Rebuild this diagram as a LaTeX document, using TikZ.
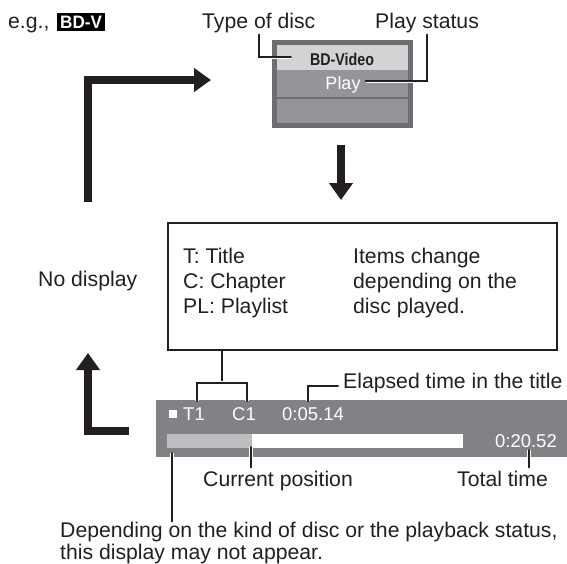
\documentclass[tikz,border=0pt]{standalone}
\usepackage{fontspec}
\setmainfont{Liberation Sans}
\usetikzlibrary{arrows.meta}
\definecolor{ink}{HTML}{231F20}
\definecolor{osdgray}{HTML}{808285}
\definecolor{framegray}{HTML}{6D6E71}
\definecolor{rowgray}{HTML}{939598}
\definecolor{bandgray}{HTML}{D1D3D4}
\definecolor{bargray}{HTML}{BCBEC0}
\tikzset{
 lbl/.style={inner sep=0pt,text=ink,font=\fontsize{21.2}{25}\selectfont},
 osdtxt/.style={lbl,text=white,font=\fontsize{18.5}{20}\selectfont},
 bigarrow/.style={ink,line width=8pt,line join=miter,-{Triangle[width=23pt,length=17pt]}},
 leader/.style={ink,line width=2pt,line cap=round,line join=miter,preaction={draw=white,line width=3.6pt}}
}

\begin{document}
\begin{tikzpicture}[x=1pt,y=-1pt]
 \useasboundingbox (0,0) rectangle (567,563);
 \node[lbl,anchor=base west] (eg) at (8,28) {e.g.,};
 \node[fill=black,text=white,font=\bfseries\fontsize{18}{18}\selectfont,inner xsep=3pt,inner ysep=3pt,anchor=base west] (badge) at (57,28) {\scalebox{0.95}[1]{BD-V}};
 % disc type panel
 \fill[framegray] (272,40) rectangle (413,128);
 \fill[bandgray] (277,45) rectangle (408,70);
 \fill[rowgray] (277,70) rectangle (408,97);
 \fill[rowgray] (277,99) rectangle (408,123);
 \node[lbl,font=\bfseries\fontsize{17}{17}\selectfont,anchor=base] (disc) at (342,65) {\scalebox{0.84}[1]{BD-Video}};
 \node[lbl,text=white,font=\fontsize{18}{18}\selectfont,anchor=base] (play) at (343,89) {Play};
 \node[lbl,anchor=base west] (typelbl) at (202,28) {Type of disc};
 \node[lbl,anchor=base west] (statuslbl) at (375,28) {Play status};
 \coordinate (typeend) at ([xshift=-19pt,yshift=1.5pt]disc.west);
 \coordinate (playend) at ([xshift=5pt,yshift=3pt]play.east);
 \draw[leader] ([yshift=-2pt]typelbl.south) |- (typeend);
 \draw[leader] ([yshift=-2pt]statuslbl.south) |- (playend);
 % cycle arrows
 \coordinate (upfoot) at (88,202);
 \coordinate (panelin) at (211,80);
 \draw[bigarrow] (upfoot) |- (panelin);
 \coordinate (downtop) at (341,145);
 \coordinate (downtip) at (341,200);
 \draw[bigarrow] (downtop) -- (downtip);
 \coordinate (barout) at (129,431);
 \coordinate (uptip) at (88,353);
 \draw[bigarrow] (barout) -| (uptip);
 \node[lbl,anchor=base west] (nodisp) at (38,286) {No display};
 % legend box
 \node[draw=ink,line width=2.2pt,minimum width=389pt,minimum height=127pt,inner sep=0pt] (info) at (362.5,286.5) {};
 \foreach \txt [count=\i] in {T: Title,C: Chapter,PL: Playlist}
  \node[lbl,anchor=base west] (abbr\i) at (183,238+25*\i) {\txt};
 \foreach \txt [count=\i] in {Items change,depending on the,disc played.}
  \node[lbl,anchor=base west] (items\i) at (353,238+25*\i) {\txt};
 % status bar
 \fill[osdgray] (156,400) rectangle (567,457);
 \fill[white] (169,410) rectangle (177,418);
 \fill[bargray] (167,434) rectangle (252,448);
 \fill[white] (252,434) rectangle (463,448);
 \node[osdtxt,anchor=base west] (tnum) at (183,420) {T1};
 \node[osdtxt,anchor=base west] (cnum) at (232,420) {C1};
 \node[osdtxt,anchor=base west] (elapsed) at (282,420) {0:05.14};
 \node[osdtxt,anchor=base east] (total) at (557,447) {0:20.52};
 \coordinate (brk) at (222,383);
 \coordinate (tpin) at (197,401);
 \coordinate (cpin) at (247,401);
 \draw[leader] (info.south -| brk) -- (brk);
 \draw[leader] (tpin) |- (brk) -| (cpin);
 \node[lbl,anchor=base west] (elapsedlbl) at (343,388) {Elapsed time in the title};
 \coordinate (epin) at (308,401);
 \draw[leader] ([xshift=-5pt,yshift=-3.5pt]elapsedlbl.west) -| (epin);
 \node[lbl,anchor=base west] (curlbl) at (203,486) {Current position};
 \node[lbl,anchor=base west] (totlbl) at (457,486) {Total time};
 \coordinate (curpin) at (251,447);
 \coordinate (totpin) at (529,450);
 \draw[leader,shorten >=3pt] (curpin) -- (curpin |- curlbl.north);
 \draw[leader,shorten >=3pt] (totpin) -- (totpin |- totlbl.north);
 \node[lbl,anchor=base west] (note1) at (60,537) {Depending on the kind of disc or the playback status,};
 \node[lbl,anchor=base west] (note2) at (60,559) {this display may not appear.};
 \coordinate (depin) at (172,453);
 \draw[leader] (depin) -- (depin |- note1.north);
\end{tikzpicture}
\end{document}
